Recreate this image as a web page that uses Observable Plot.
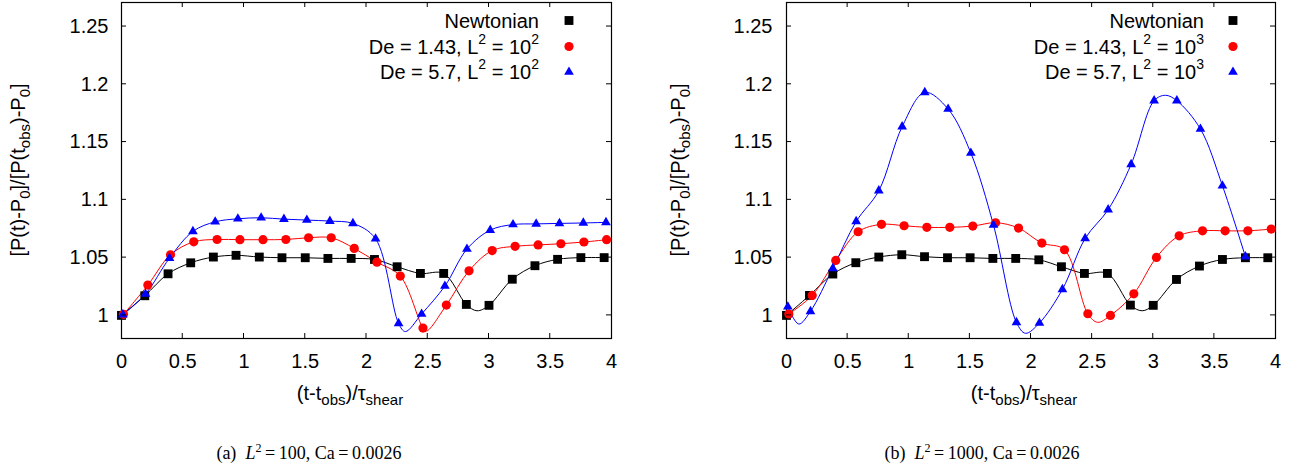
<!DOCTYPE html>
<html><head><meta charset="utf-8">
<script src="https://cdn.jsdelivr.net/npm/d3@7"></script>
<script src="https://cdn.jsdelivr.net/npm/@observablehq/plot@0.6"></script>
<style>
body{margin:0;background:#fff;width:1295px;height:469px;position:relative;overflow:hidden;font-family:"Liberation Sans",Arial,sans-serif;}
#a,#b{position:absolute;top:0;}
#a{left:0}
#b{left:647px}
.cap{position:absolute;top:444px;font-family:"Liberation Serif","Times New Roman",serif;font-size:18px;line-height:18px;white-space:nowrap;transform:translateX(-50%);color:#000;}
.cap .sp{font-size:12px;position:relative;top:-7px;}
</style></head><body>
<div id="a"></div><div id="b"></div>
<div class="cap" style="left:309px">(a)&ensp;<i>L</i><span class="sp">2</span>&thinsp;=&thinsp;100, Ca&thinsp;=&thinsp;0.0026</div>
<div class="cap" style="left:982px">(b)&ensp;<i>L</i><span class="sp">2</span>&thinsp;=&thinsp;1000, Ca&thinsp;=&thinsp;0.0026</div>
<script>
// ---- axis ticks ----
const xTicks = [0, 0.5, 1, 1.5, 2, 2.5, 3, 3.5, 4];
const xTickLabels = ["0", "0.5", "1", "1.5", "2", "2.5", "3", "3.5", "4"];
const yTicks = [1, 1.05, 1.1, 1.15, 1.2, 1.25];
const yTickLabels = ["1", "1.05", "1.1", "1.15", "1.2", "1.25"];
const xDomain = [0, 4];
const yDomain = [0.98, 1.2708];

// ---- panel (a): L^2 = 100 ----
const aNewtX = [0, 0.19, 0.38, 0.565, 0.75, 0.935, 1.125, 1.31, 1.5, 1.685, 1.875, 2.065, 2.25, 2.44, 2.63, 2.815, 3.0, 3.19, 3.375, 3.56, 3.75, 3.94];
const aNewtY = [1.000, 1.017, 1.036, 1.0455, 1.0505, 1.052, 1.0505, 1.0499, 1.0499, 1.0493, 1.0493, 1.0484, 1.0421, 1.0363, 1.0363, 1.0095, 1.0087, 1.0313, 1.0430, 1.0485, 1.0500, 1.0500];
const aNewtLineX = [2.902];
const aNewtLineY = [1.004];
const aDe143X = [0.016, 0.215, 0.4, 0.59, 0.78, 0.967, 1.155, 1.342, 1.527, 1.712, 1.9, 2.085, 2.276, 2.461, 2.652, 2.837, 3.026, 3.213, 3.401, 3.587, 3.775, 3.96];
const aDe143Y = [1.0009, 1.0262, 1.0525, 1.0637, 1.0657, 1.0655, 1.0655, 1.0657, 1.0672, 1.0672, 1.058, 1.0461, 1.034, 0.989, 1.0089, 1.0386, 1.0561, 1.0598, 1.061, 1.062, 1.0635, 1.0655];
const aDe143LineX = [2.49];
const aDe143LineY = [0.9865];
const aDe57X = [0.011, 0.196, 0.392, 0.583, 0.765, 0.95, 1.14, 1.326, 1.513, 1.701, 1.889, 2.074, 2.262, 2.45, 2.64, 2.82, 3.01, 3.196, 3.385, 3.575, 3.77, 3.955];
const aDe57Y = [1.0006, 1.0185, 1.0496, 1.0727, 1.081, 1.0836, 1.0845, 1.0833, 1.0825, 1.0816, 1.0796, 1.0663, 0.9931, 1.0012, 1.0254, 1.0574, 1.0738, 1.0786, 1.0792, 1.0796, 1.0800, 1.0805];
const aDe57LineX = [2.317];
const aDe57LineY = [0.986];

// ---- panel (b): L^2 = 1000 ----
const bNewtX = [0, 0.188, 0.379, 0.567, 0.755, 0.943, 1.129, 1.317, 1.502, 1.688, 1.875, 2.064, 2.249, 2.437, 2.625, 2.813, 3.0, 3.19, 3.378, 3.566, 3.754, 3.937];
const bNewtY = [1.0, 1.0173, 1.0358, 1.0456, 1.0505, 1.0525, 1.0508, 1.0499, 1.0499, 1.0493, 1.0493, 1.0481, 1.0421, 1.0363, 1.0363, 1.0089, 1.0087, 1.0311, 1.0427, 1.0484, 1.0499, 1.0499];
const bNewtLineX = [2.909];
const bNewtLineY = [1.004];
const bDe143X = [0.019, 0.21, 0.403, 0.586, 0.777, 0.962, 1.148, 1.336, 1.524, 1.71, 1.898, 2.089, 2.274, 2.465, 2.65, 2.841, 3.026, 3.212, 3.403, 3.588, 3.774, 3.965];
const bDe143Y = [1.0012, 1.0173, 1.0476, 1.0724, 1.0788, 1.0776, 1.0762, 1.0762, 1.0773, 1.0802, 1.0756, 1.0626, 1.0568, 1.0014, 1.0, 1.0187, 1.0502, 1.0689, 1.0732, 1.0732, 1.0732, 1.0747];
const bDe143LineX = [2.545];
const bDe143LineY = [0.994];
const bDe57X = [0.011, 0.196, 0.379, 0.57, 0.755, 0.946, 1.131, 1.322, 1.508, 1.693, 1.881, 2.069, 2.257, 2.443, 2.631, 2.819, 3.007, 3.193, 3.386, 3.566, 3.754];
const bDe57Y = [1.0075, 1.0035, 1.0407, 1.0813, 1.1079, 1.1633, 1.193, 1.1786, 1.1405, 1.0782, 0.9939, 0.9934, 1.0225, 1.0666, 1.0915, 1.1307, 1.1858, 1.1858, 1.1613, 1.1122, 1.0508];
const bDe57LineX = [0.10, 1.955, 3.10];
const bDe57LineY = [0.9925, 0.9845, 1.1905];

// ---- legend ----
const seriesColors = ["#000000", "#ff0000", "#0000ff"];
const seriesSymbols = ["square", "circle", "triangle"];
const seriesR = [5.0, 4.6, 3.6];
const aLegend = [["Newtonian"], ["De = 1.43, L", "2", " = 10", "2"], ["De = 5.7, L", "2", " = 10", "2"]];
const bLegend = [["Newtonian"], ["De = 1.43, L", "2", " = 10", "3"], ["De = 5.7, L", "2", " = 10", "3"]];

const FONT = '"Liberation Sans", Arial, Helvetica, sans-serif';

function zip(xs, ys) { return xs.map((x, i) => ({x, y: ys[i]})); }

function panel(el, cfg) {
  const series = cfg.series;
  const marks = [
    Plot.frame({stroke: "#000", strokeWidth: 1.2}),
    Plot.axisX({ticks: xTicks, tickSize: 0, tickPadding: 15, label: null, tickFormat: d => xTickLabels[xTicks.indexOf(d)]}),
    Plot.axisY({ticks: yTicks, tickSize: 0, tickPadding: cfg.yPad, label: null, tickFormat: d => yTickLabels[yTicks.indexOf(d)]})
  ];
  series.forEach((s, k) => {
    const line = zip(s.x, s.y).concat(zip(s.lx, s.ly)).sort((a, b) => a.x - b.x);
    marks.push(Plot.line(line, {x: "x", y: "y", stroke: seriesColors[k], strokeWidth: 1, curve: "catmull-rom"}));
  });
  series.forEach((s, k) => {
    marks.push(Plot.dot(zip(s.x, s.y), {x: "x", y: "y", symbol: seriesSymbols[k], fill: seriesColors[k], r: seriesR[k]}));
  });
  const plot = Plot.plot({
    width: cfg.width, height: 410,
    marginTop: 2, marginBottom: 72, marginLeft: cfg.ml, marginRight: cfg.mr,
    x: {domain: xDomain}, y: {domain: yDomain},
    style: {fontFamily: FONT, fontSize: "20px", color: "#000", background: "#fff", overflow: "visible"},
    marks
  });
  el.appendChild(plot);
  const svg = d3.select(plot);
  const sx = plot.scale("x"), sy = plot.scale("y");
  const x0 = sx.apply(xDomain[0]), x1 = sx.apply(xDomain[1]);
  const yb = sy.apply(yDomain[0]), yt = sy.apply(yDomain[1]);
  const g = svg.append("g").attr("stroke", "#000").attr("stroke-width", 1);
  const T = 5;
  xTicks.slice(1, -1).forEach(v => {
    const px = sx.apply(v);
    g.append("line").attr("x1", px).attr("x2", px).attr("y1", yb).attr("y2", yb - T);
    g.append("line").attr("x1", px).attr("x2", px).attr("y1", yt).attr("y2", yt + T);
  });
  yTicks.forEach(v => {
    const py = sy.apply(v);
    g.append("line").attr("x1", x0).attr("x2", x0 + T).attr("y1", py).attr("y2", py);
    g.append("line").attr("x1", x1).attr("x2", x1 - T).attr("y1", py).attr("y2", py);
  });
  // x label
  const xl = svg.append("text").attr("x", cfg.xLabelX).attr("y", 400).attr("text-anchor", "middle")
    .attr("font-family", FONT).attr("font-size", 20).attr("fill", "#000");
  xl.append("tspan").text("(t-t");
  xl.append("tspan").attr("dy", 5).attr("font-size", 15).text("obs");
  xl.append("tspan").attr("dy", -5).text(")/\u03c4");
  xl.append("tspan").attr("dy", 5).attr("font-size", 15).text("shear");
  // y label
  const yc = (yb + yt) / 2;
  const yl = svg.append("text").attr("transform", `translate(${cfg.yLabelX},${yc}) rotate(-90)`)
    .attr("text-anchor", "middle").attr("font-family", FONT).attr("font-size", 20).attr("fill", "#000");
  yl.append("tspan").text("[P(t)-P");
  yl.append("tspan").attr("dy", 5).attr("font-size", 15).text("0");
  yl.append("tspan").attr("dy", -5).text("]/[P(t");
  yl.append("tspan").attr("dy", 5).attr("font-size", 15).text("obs");
  yl.append("tspan").attr("dy", -5).text(")-P");
  yl.append("tspan").attr("dy", 5).attr("font-size", 15).text("0");
  yl.append("tspan").attr("dy", -5).text("]");
  // legend
  const rowsY = [20.5, 46.5, 72];
  cfg.legend.forEach((parts, k) => {
    const t = svg.append("text").attr("x", cfg.legTextX).attr("y", rowsY[k] + 7).attr("text-anchor", "end")
      .attr("font-family", FONT).attr("font-size", 20).attr("fill", "#000");
    t.append("tspan").text(parts[0]);
    if (parts.length > 1) {
      t.append("tspan").attr("dy", -10).attr("font-size", 14).text(parts[1]);
      t.append("tspan").attr("dy", 10).text(parts[2]);
      t.append("tspan").attr("dy", -10).attr("font-size", 14).text(parts[3]);
    }
    const sym = {square: d3.symbolSquare, circle: d3.symbolCircle, triangle: d3.symbolTriangle}[seriesSymbols[k]];
    svg.append("path").attr("transform", `translate(${cfg.legSymX},${rowsY[k]})`)
      .attr("d", d3.symbol(sym, Math.PI * seriesR[k] * seriesR[k])()).attr("fill", seriesColors[k]);
  });
}

panel(document.getElementById("a"), {
  width: 647, ml: 121, mr: 36, yPad: 13, xLabelX: 350, yLabelX: 25, legTextX: 539, legSymX: 569,
  legend: aLegend,
  series: [
    {x: aNewtX, y: aNewtY, lx: aNewtLineX, ly: aNewtLineY},
    {x: aDe143X, y: aDe143Y, lx: aDe143LineX, ly: aDe143LineY},
    {x: aDe57X, y: aDe57Y, lx: aDe57LineX, ly: aDe57LineY}
  ]
});
panel(document.getElementById("b"), {
  width: 648, ml: 139, mr: 20, yPad: 14, xLabelX: 377, yLabelX: 38, legTextX: 557, legSymX: 586,
  legend: bLegend,
  series: [
    {x: bNewtX, y: bNewtY, lx: bNewtLineX, ly: bNewtLineY},
    {x: bDe143X, y: bDe143Y, lx: bDe143LineX, ly: bDe143LineY},
    {x: bDe57X, y: bDe57Y, lx: bDe57LineX, ly: bDe57LineY}
  ]
});
</script>
</body></html>
